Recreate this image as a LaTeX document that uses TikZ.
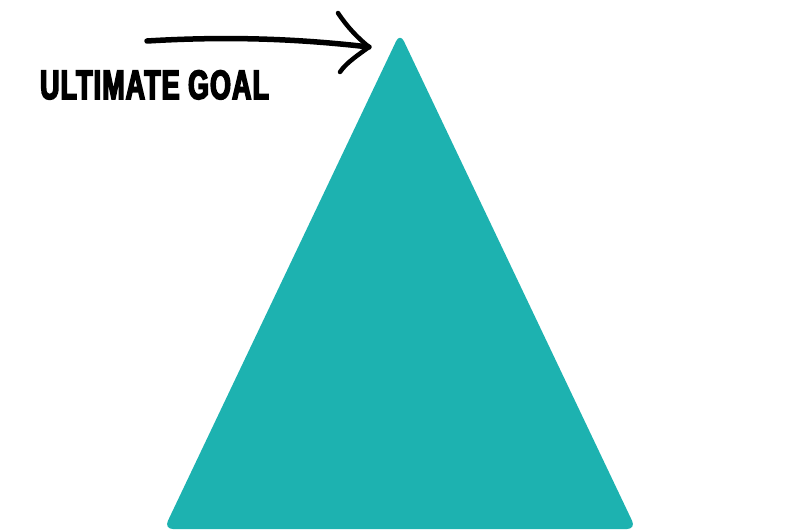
\documentclass[tikz,border=0pt]{standalone}
\usepackage{fontspec}
\newfontfamily\goalfont[FakeStretch=0.65,FakeBold=4,LetterSpace=3]{Liberation Sans Bold}
\definecolor{teal1}{HTML}{1DB2B0}
\begin{document}
\begin{tikzpicture}[x=1pt,y=-1pt,
  ink/.style={line width=5.5pt,line cap=round,line join=round,black},
  goal/.style={inner sep=0pt,font=\goalfont\fontsize{41}{44}\selectfont,text=black}]
\useasboundingbox (0,0) rectangle (800,530);
\fill[teal1,rounded corners=9pt] (400,33) -- (636,529) -- (164,529) -- cycle;
\node[goal,anchor=base west] (t) at (40,99) {ULTIMATE GOAL};
\coordinate (s) at (147,41);
\coordinate (tip) at (369,47);
\coordinate (h1) at (338,13);
\coordinate (h2) at (340,72);
\draw[ink] (s) .. controls (230,36) and (300,39) .. (tip);
\draw[ink,line width=4.5pt] (h1) .. controls (348,28) and (358,38) .. (tip) .. controls (358,55) and (346,63) .. (h2);
\end{tikzpicture}
\end{document}
